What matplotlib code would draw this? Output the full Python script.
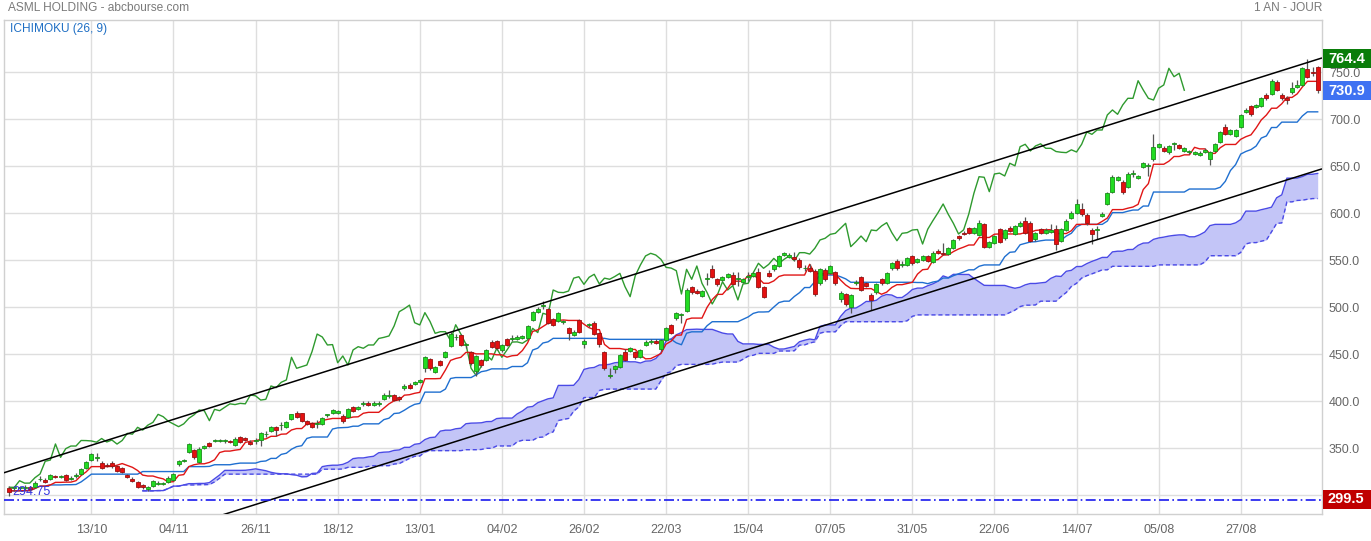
import numpy as np
import pandas as pd
import matplotlib
matplotlib.use("Agg")
import matplotlib.pyplot as plt
from matplotlib.patches import Rectangle
from matplotlib.transforms import blended_transform_factory

plt.rcParams['font.family'] = ['Liberation Sans', 'DejaVu Sans']

# ---------------- data ----------------
opens = [308, 307.5, 307.5, 307.6, 308.5, 309, 317, 316, 317, 320.5,
         319.5, 322, 317.5, 320.3, 323, 329.3, 337.2, 340.2, 334.7, 332.5,
         334, 331, 328.7, 321.3, 317.3, 313.8, 310.9, 306.4, 309.9, 312.5,
         312, 314.5, 316.3, 333, 336, 346.4, 348.2, 335.7, 350, 355.3,
         358, 358, 357.5, 357.5, 353.8, 361.7, 360.6, 357, 358, 358.8,
         364.7, 368.7, 372.3, 374.3, 373, 380.9, 387.2, 387.2, 379.4, 376.6,
         375.6, 375.8, 385.2, 387.2, 387.2, 384.7, 383.6, 393.6, 392.1, 397,
         397.8, 396.5, 397, 402.8, 405.4, 406.4, 404.2, 413.8, 417, 418.1,
         420.5, 435.1, 444.7, 431.5, 442.9, 447.4, 459, 468, 470.5, 460,
         452.8, 432.6, 443.9, 443.9, 463.4, 464.1, 454.6, 466, 466.4, 466.5,
         467, 467, 486.4, 494.7, 501.8, 497.8, 487.2, 485.4, 484.5, 477.6,
         470.5, 486.4, 460.7, 481, 483, 472.3, 452.1, 427, 434, 436.2,
         452.8, 453.1, 452.8, 447.4, 459.9, 462.8, 464.5, 455.3, 465.2, 481.2,
         488.3, 491.6, 496.4, 521.9, 517.7, 512, 530.6, 540.4, 529.8, 529,
         532.5, 534.3, 530.6, 527.2, 532.3, 533.6, 537.9, 521.9, 536.1, 540.4,
         543.9, 555.6, 553.8, 553.8, 550.3, 541.3, 541.5, 538.9, 525.5, 539.7,
         536.1, 537.9, 508.5, 514.1, 500.6, 525.5, 531.9, 525.5, 513.1, 515.9,
         529.8, 526.2, 541.5, 549.6, 545.2, 545, 554.6, 548.5, 550.3, 554.6,
         548.5, 559.9, 558.1, 556.6, 563.4, 575.8, 579.4, 584, 578.7, 576.9,
         588.3, 564.5, 568.7, 583, 573.4, 584, 578, 586.5, 592.1, 590,
         572.3, 583, 579.4, 580.5, 583, 570.5, 582.2, 594.6, 600.6, 604.2,
         598.2, 582.2, 582, 597.4, 609.9, 623, 635.4, 633.6, 627.6, 642.3,
         637.9, 649.6, 650.1, 657.4, 670.2, 669.1, 664.9, 673.5, 672.6, 666.3,
         665.3, 662.8, 662.5, 665.5, 658.1, 666.3, 676.2, 691.5, 684, 682.2,
         691.5, 707.7, 714.1, 712.7, 714.1, 725.8, 726.9, 740, 725.8, 722.9,
         729.4, 734, 736.5, 753.5, 750.7, 755.9]
closes = [303, 308, 307.8, 308, 307, 313.5, 317.5, 314.5, 321.3, 319.5,
          320.5, 316.3, 318, 320.7, 328, 335.7, 344.3, 340.6, 328.7, 331.5,
          331, 326, 324.5, 319.1, 315.5, 308.5, 308.5, 308.5, 315.5, 312.9,
          313, 318.7, 322.7, 336.2, 337.5, 354.6, 340.4, 349.6, 352.4, 352.4,
          358.3, 358.2, 357.8, 356.5, 360.4, 356.7, 358.8, 354.5, 358.3, 365.9,
          365, 372.3, 369.4, 374.6, 377.6, 386.1, 383.6, 378.7, 375.8, 373,
          376, 381.9, 385.6, 390.7, 390, 379.4, 391.4, 390, 393.6, 397.3,
          396.5, 397.8, 397.3, 406.7, 405.8, 401.3, 402.1, 416.3, 414.5, 420.2,
          422.7, 446.8, 435.1, 436.8, 438.6, 452.8, 471.5, 468.4, 459.9, 460.3,
          441, 448.2, 438.6, 454.6, 458.1, 456.4, 459.9, 459.9, 466.8, 468,
          469.5, 480.1, 495.3, 498.5, 502.3, 483.6, 481.2, 494.3, 484.9, 472.3,
          474, 474, 464.5, 481.4, 471.6, 460.7, 435.1, 427.4, 437.6, 449.2,
          443.9, 456.4, 446.8, 454.6, 463, 463.2, 461.7, 465.2, 477.6, 473.1,
          493.6, 492, 518.4, 515.9, 515.6, 517.3, 531, 532.5, 524.4, 531.9,
          535.1, 524.8, 531, 529.8, 532.7, 536.1, 521.9, 511.3, 533.6, 545,
          554.6, 557.4, 555.6, 551, 542.5, 541.7, 538.9, 514.1, 540.4, 529.8,
          543.9, 525.5, 515.6, 503.5, 513.1, 527.2, 518.4, 523, 507.8, 524.8,
          525.5, 536.8, 546.8, 541.5, 545.6, 552, 546.8, 551, 554.6, 549.6,
          558.1, 558.1, 556.6, 562.8, 571.6, 573.4, 577.6, 578.7, 584, 589.3,
          564.5, 569.8, 575.8, 569.8, 582.2, 581.5, 586.5, 590, 579.4, 570.8,
          578.7, 579.4, 582.2, 582.7, 567.3, 583, 592.1, 600.6, 609.9, 598.9,
          589.3, 578, 582.4, 599.2, 621.3, 638.9, 638.3, 623, 641.8, 642.7,
          639.7, 653.2, 650.5, 670.8, 673.4, 666.3, 671.6, 673.9, 669.1, 669.1,
          665.7, 664.9, 664.5, 667.5, 665.2, 673.4, 686.5, 684, 688.6, 688.6,
          704.6, 709.9, 705.3, 715.2, 722.3, 722.3, 741, 731.2, 722.3, 720.5,
          733, 736.5, 754.2, 745.3, 748.9, 730.9]
highs = [310, 310, 310, 310.5, 310, 315, 320, 318, 322.5, 322,
         322, 323, 320, 323.5, 329, 337, 345.5, 345.3, 336, 334,
         336, 332.5, 330, 323, 319, 315, 312, 309.5, 316.5, 315,
         314.5, 320, 324, 337.5, 339, 356, 349.5, 351, 353.5, 356.5,
         360, 360, 359.5, 359, 362, 363.5, 362, 358.5, 361, 367,
         368, 373.5, 373.5, 378, 378.5, 387, 390, 388, 380.5, 377.5,
         380, 383, 387, 392, 391, 386, 392.5, 395, 395, 400,
         400, 400, 400, 409, 412, 408, 405.5, 418, 419, 422,
         424, 448, 446, 438, 444, 454, 474, 472, 472, 462,
         454, 449.5, 445.5, 456, 465, 465.5, 461, 467, 470, 471,
         471, 481.5, 496.5, 500, 507, 499.5, 488.5, 495.5, 486.5, 479,
         475.5, 487.5, 466, 483, 485.5, 473.5, 453.5, 435, 439, 450.5,
         456, 457.5, 454, 456, 465.5, 466, 466, 466.5, 479, 482.5,
         495, 493.5, 520, 523, 519, 518.5, 536, 544.5, 531, 533,
         536.5, 538, 537, 531.5, 537, 537.5, 541.5, 523, 540, 546.5,
         556, 559, 558, 558.5, 552, 545, 546, 541, 542, 541.5,
         545.5, 539, 517.5, 515.5, 514.5, 529, 533.5, 527, 515, 526,
         531.5, 538, 548, 551, 549, 553.5, 556, 552.5, 556, 556,
         559.5, 561.5, 568, 564, 573, 577, 581, 585.5, 585.5, 593,
         590, 571, 577, 584.5, 583.5, 586, 588, 591.5, 596, 591.5,
         580, 584.5, 584, 589, 588, 584.5, 593.5, 602, 615.5, 611,
         600, 584, 586, 601, 622.5, 640.5, 640, 635, 643.5, 646,
         641, 654.5, 653.5, 684.3, 675, 672, 673, 676, 674, 671,
         667, 666.5, 666, 669, 666.5, 675, 688, 695, 690, 690,
         706, 711.5, 715.5, 716.5, 723.5, 728, 742.5, 741.5, 727.5, 724.5,
         740, 742, 755.5, 764.4, 756, 757]
lows = [299.5, 305, 305.5, 305.5, 305, 307.5, 315, 313, 316, 318,
        318, 315.5, 316, 318.5, 322, 328, 336, 337, 327.5, 330,
        329.5, 325, 323.5, 318, 314, 307.5, 307, 305, 309, 311,
        311, 313.5, 315.5, 331, 335, 345, 339, 334, 349, 351.5,
        356.5, 356.5, 356, 355.5, 352.5, 355.5, 357.5, 353, 354.5, 352,
        362, 367.5, 363, 369, 372, 380, 382.5, 377.5, 374.5, 371.5,
        372, 374.5, 383, 386, 386, 376.5, 382.5, 389, 391, 395,
        395, 395.5, 395, 401.5, 403, 400, 400.5, 412.5, 413, 417,
        419.5, 431.5, 433.5, 430, 437.5, 446, 457.5, 465, 458.5, 457,
        439, 426.9, 437, 442.5, 457, 455, 452, 459, 464, 465,
        466, 466, 485, 493.5, 498.5, 482, 480, 484, 482.5, 465,
        469, 472.5, 457, 479, 470, 458, 433.5, 424.8, 430, 435,
        442.5, 452, 445.5, 446, 459, 460.5, 460.5, 454, 464, 472,
        487, 483, 495.5, 514.5, 514, 511, 523.7, 531, 523, 528,
        531.5, 523.5, 523, 526, 528, 532.5, 520.5, 509.6, 532.5, 539,
        543, 554.5, 552.5, 549.5, 541, 539, 537.5, 512.5, 524, 528,
        535, 524, 506, 501.5, 494.2, 524, 517, 521.5, 497.1, 514.5,
        524, 525, 540, 540, 543, 543.5, 545.5, 547, 549, 548,
        547, 557, 555.5, 555.5, 562.5, 572, 576.5, 577.5, 577.5, 575.5,
        563, 563.5, 567.5, 568.5, 572, 580, 577, 585, 578, 569,
        571, 578, 578, 579, 560.9, 569, 581, 593.5, 599, 597.5,
        588, 567.3, 573, 596, 608.5, 622, 634.5, 620, 626.5, 638.9,
        636.5, 648, 640, 656, 669, 665, 663.5, 667, 668, 665,
        663.5, 661.5, 661, 664, 651.4, 665, 675, 683, 683, 681,
        690.5, 706.5, 704, 711.5, 713, 721, 726, 730, 721, 716.3,
        727, 733, 735.5, 744, 746, 728.3]

x_labels = ['13/10', '04/11', '26/11', '18/12', '13/01', '04/02', '26/02', '22/03',
            '15/04', '07/05', '31/05', '22/06', '14/07', '05/08', '27/08']
x_label_idx = [16, 32, 48, 64, 80, 96, 112, 128, 144, 160, 176, 192, 208, 224, 240]
y_ticks = [300, 350, 400, 450, 500, 550, 600, 650, 700, 750]

channel_idx = [-1.03, 255.7]
channel_upper = [324.0, 765.0]
channel_width = 118.0
ref_level = 294.75
last_close = 730.9
period_high = 764.4
period_low = 299.5

tenkan_period, kijun_period, senkou_b_period, shift = 9, 26, 52, 26

# ---------------- indicators ----------------
df = pd.DataFrame({'o': opens, 'h': highs, 'l': lows, 'c': closes})
n = len(df)
idx = np.arange(n)
tenkan = (df.h.rolling(tenkan_period, min_periods=1).max() + df.l.rolling(tenkan_period, min_periods=1).min()) / 2
kijun = (df.h.rolling(kijun_period, min_periods=1).max() + df.l.rolling(kijun_period, min_periods=1).min()) / 2
senkou_a = ((tenkan + kijun) / 2).shift(shift)
senkou_b = ((df.h.rolling(senkou_b_period, min_periods=1).max() + df.l.rolling(senkou_b_period, min_periods=1).min()) / 2).shift(shift)
chikou = df.c.shift(-shift)

# ---------------- figure ----------------
W, H = 1371, 541
fig = plt.figure(figsize=(W / 100, H / 100), dpi=100)
ax = fig.add_axes([4 / W, 27 / H, 1318 / W, 494 / H])
ax.set_xlim(-1.03, 255.84)
ax.set_ylim(280.1, 805.6)

grid_c = '#dedede'
for xi in x_label_idx:
    ax.axvline(xi, color=grid_c, lw=1, zorder=0)
for yv in y_ticks:
    ax.axhline(yv, color=grid_c, lw=1, zorder=0)
for s in ax.spines.values():
    s.set_color('#d0d0d0')
    s.set_linewidth(1)

# cloud
ax.fill_between(idx, senkou_a, senkou_b, color='#c3c5f7', lw=0, zorder=1)
ax.plot(idx, senkou_a, color='#4a4ae6', lw=1, zorder=2)
ax.plot(idx, senkou_b, color='#4a4ae6', lw=1, ls=(0, (3, 2)), zorder=2)

# ichimoku lines
ax.plot(idx, chikou, color='#2e9a2e', lw=1, zorder=3)
ax.plot(idx, kijun, color='#1f6fd0', lw=1, zorder=3)
ax.plot(idx, tenkan, color='#e01515', lw=1, zorder=3)

# candles
o = df.o.values; c = df.c.values
up = c >= o
ax.vlines(idx, df.l.values, df.h.values, color='#555555', lw=0.9, zorder=4)
bottoms = np.minimum(o, c)
heights = np.maximum(np.abs(c - o), 0.8)
ax.bar(idx[up], heights[up], bottom=bottoms[up], width=0.78, color='#22dc22',
       edgecolor='#1a8f1a', lw=0.6, zorder=5)
ax.bar(idx[~up], heights[~up], bottom=bottoms[~up], width=0.78, color='#e41010',
       edgecolor='#9a1010', lw=0.6, zorder=5)

# channel
ax.plot(channel_idx, channel_upper, color='black', lw=1.1, zorder=6)
ax.plot(channel_idx, [v - channel_width for v in channel_upper], color='black', lw=1.1, zorder=6)

# reference level
ax.axhline(ref_level, color='#1a1aee', lw=1.2, ls=(0, (6, 2, 1, 2)), zorder=6)
ax.text(8 / 1318, ref_level + 8.5, f'{ref_level:.2f}', transform=blended_transform_factory(ax.transAxes, ax.transData),
        color='#3434e0', fontsize=9, va='center', ha='left', zorder=7)

# ticks
ax.set_xticks(x_label_idx)
ax.set_xticklabels(x_labels)
ax.set_yticks(y_ticks)
ax.set_yticklabels(['' if v == 300 else f'{v:.1f}' for v in y_ticks])
ax.yaxis.tick_right()
ax.tick_params(axis='both', length=0, colors='#666666', labelsize=9)
ax.tick_params(axis='x', pad=7)
ax.tick_params(axis='y', pad=5)

# titles
fig.text(8 / W, 1 - 8 / H, 'ASML HOLDING - abcbourse.com', color='#7a7a7a', fontsize=8.6, va='center', ha='left')
fig.text(1322 / W, 1 - 8 / H, '1 AN - JOUR', color='#7a7a7a', fontsize=8.6, va='center', ha='right')
ax.text(6 / 1318, 1 - 9 / 494, 'ICHIMOKU (26, 9)', transform=ax.transAxes, color='#1f6fc4',
        fontsize=8.6, va='center', ha='left')

# value boxes on the right
bt = blended_transform_factory(ax.transAxes, ax.transData)
box_w = 49 / 1318
box_h = 19 / 0.94
for val, txt, col in [(764.2, f'{period_high:.1f}', '#0a7d0a'),
                      (730.1, f'{last_close:.1f}', '#3f72f2'),
                      (296.0, f'{period_low:.1f}', '#c00000')]:
    ax.add_patch(Rectangle((1.0 + 1 / 1318, val - box_h / 2), box_w, box_h, transform=bt,
                           facecolor=col, edgecolor='none', clip_on=False, zorder=8))
    ax.text(1.0 + 6 / 1318, val, txt, transform=bt, color='white', fontsize=10.5,
            fontweight='bold', va='center', ha='left', clip_on=False, zorder=9)

fig.savefig('out.png', dpi=100)
